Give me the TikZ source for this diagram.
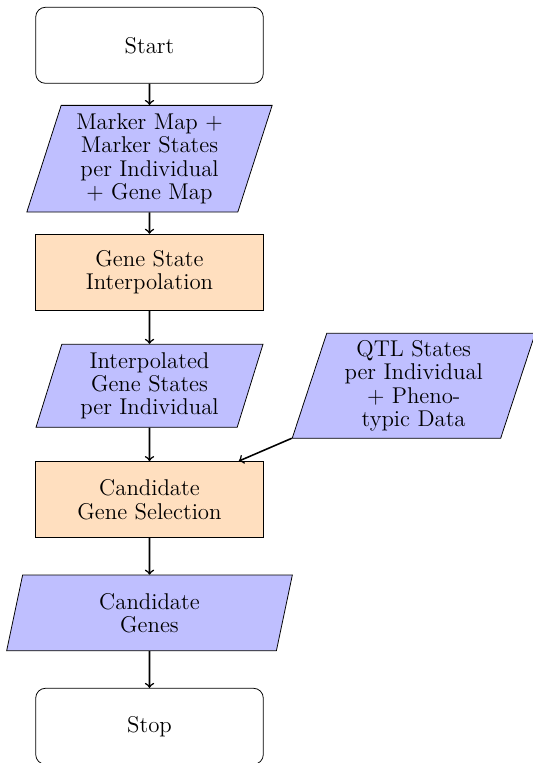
\documentclass[tikz,border=0pt]{standalone}
\usetikzlibrary{shapes.geometric,arrows}

\tikzset{
  every node/.style={font=\fontsize{11.7pt}{12pt}\selectfont},
  terminal/.style={draw, rounded corners=5pt, minimum width=116.7pt,
    minimum height=39pt, align=center, inner sep=2pt},
  process/.style={draw, fill=orange!25, minimum width=116.7pt,
    minimum height=39pt, align=center, inner sep=2pt},
  iodata/.style={draw, fill=blue!25, trapezium, trapezium left angle=70,
    trapezium right angle=110, trapezium stretches body=true,
    align=center, inner sep=1pt},
  flow/.style={->, >=to, thick}
}

\begin{document}
\begin{tikzpicture}[x=0.5128pt, y=-0.5128pt]
  \useasboundingbox (0,0) rectangle (533,763);

  \node[terminal] (start) at (149.5,45.3) {Start};
  \node[iodata, minimum width=125.8pt, minimum height=54.7pt] (markers) at (149.5,158.7)
    {Marker Map +\\Marker States\\per Individual\\+ Gene Map};
  \node[process] (interp) at (149.5,272.2) {Gene State\\Interpolation};
  \node[iodata, minimum width=116.4pt, minimum height=42.6pt] (genestates) at (149.5,385.8)
    {Interpolated\\Gene States\\per Individual};
  \node[iodata, minimum width=124.6pt, minimum height=53.8pt] (qtl) at (413.7,385.8)
    {QTL States\\per Individual\\+ Pheno-\\typic Data};
  \node[process] (select) at (149.5,499.5) {Candidate\\Gene Selection};
  \node[iodata, minimum width=146.5pt, minimum height=38.8pt] (cands) at (149.5,612.9)
    {Candidate\\Genes};
  \node[terminal] (stop) at (149.5,726.3) {Stop};

  \draw[flow] (start) -- (markers);
  \draw[flow] (markers) -- (interp);
  \draw[flow] (interp) -- (genestates);
  \draw[flow] (genestates) -- (select);
  \draw[flow] (qtl) -- (select);
  \draw[flow] (select) -- (cands);
  \draw[flow] (cands) -- (stop);
\end{tikzpicture}
\end{document}
